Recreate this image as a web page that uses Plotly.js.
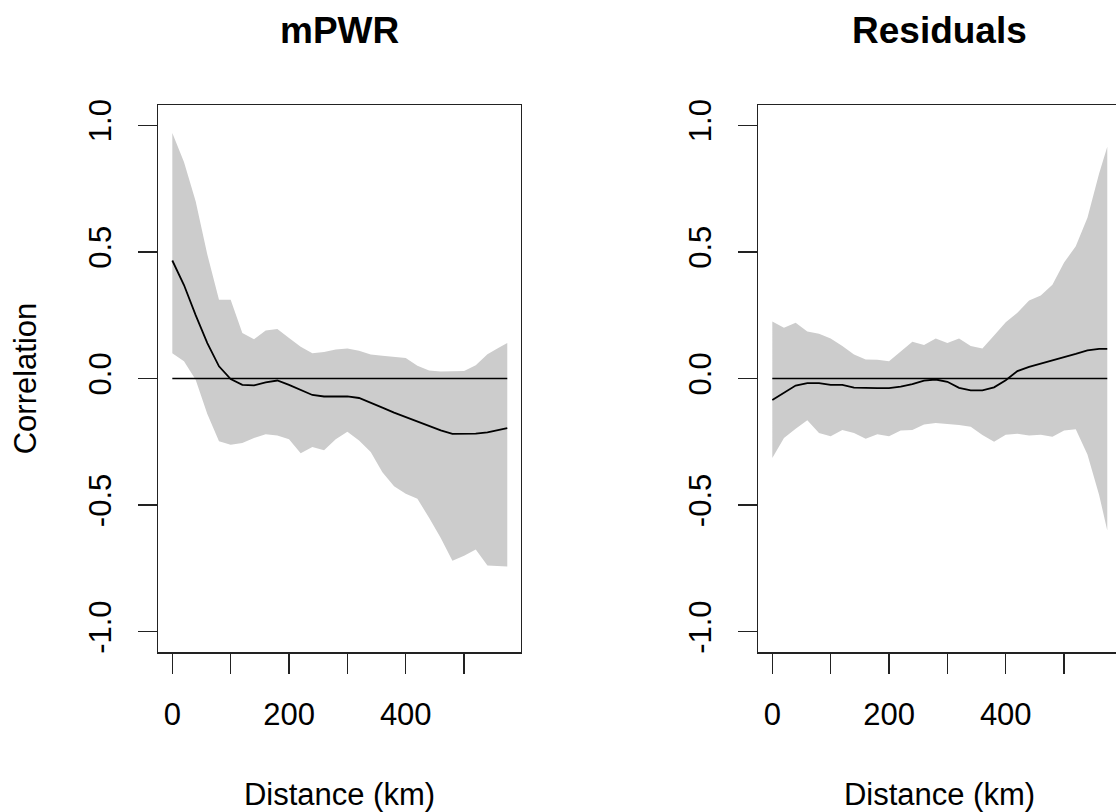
<!DOCTYPE html>
<html>
<head>
<meta charset="utf-8">
<script src="https://cdn.plot.ly/plotly-3.0.1.min.js"></script>
<style>
html, body { margin: 0; padding: 0; overflow: hidden; background: #fff; }
#chart { width: 1124px; height: 812px; }
</style>
</head>
<body>
<div id="chart"></div>
<script>
// ---- data ----
const distance = [0, 20, 40, 60, 80, 100, 120, 140, 160, 180, 200, 220, 240, 260, 280, 300,
                  320, 340, 360, 380, 400, 420, 440, 460, 480, 500, 520, 540, 560, 574];

const mpwrMean  = [0.466, 0.369, 0.25, 0.14, 0.048, -0.002, -0.025, -0.027, -0.015, -0.008, -0.025, -0.046, -0.065, -0.071, -0.071, -0.071,
                   -0.077, -0.095, -0.115, -0.135, -0.153, -0.170, -0.187, -0.205, -0.219, -0.219, -0.218, -0.213, -0.204, -0.196];
const mpwrUpper = [0.969, 0.855, 0.70, 0.49, 0.311, 0.311, 0.18, 0.155, 0.19, 0.195, 0.16, 0.125, 0.10, 0.105, 0.115, 0.118,
                   0.11, 0.095, 0.09, 0.086, 0.081, 0.05, 0.032, 0.028, 0.028, 0.030, 0.052, 0.096, 0.122, 0.140];
const mpwrLower = [0.100, 0.068, -0.005, -0.14, -0.248, -0.262, -0.255, -0.235, -0.22, -0.225, -0.24, -0.295, -0.27, -0.283, -0.24, -0.21,
                   -0.245, -0.29, -0.37, -0.425, -0.455, -0.475, -0.55, -0.63, -0.72, -0.70, -0.675, -0.738, -0.741, -0.742];

const residMean  = [-0.085, -0.055, -0.028, -0.018, -0.018, -0.025, -0.025, -0.036, -0.038, -0.038, -0.038, -0.032, -0.022, -0.008, -0.004, -0.013,
                    -0.037, -0.047, -0.047, -0.035, -0.007, 0.029, 0.046, 0.058, 0.070, 0.084, 0.097, 0.111, 0.117, 0.117];
const residUpper = [0.225, 0.20, 0.22, 0.186, 0.177, 0.158, 0.128, 0.095, 0.075, 0.074, 0.068, 0.105, 0.145, 0.132, 0.158, 0.14,
                    0.158, 0.128, 0.118, 0.17, 0.222, 0.26, 0.308, 0.328, 0.37, 0.458, 0.522, 0.635, 0.81, 0.915];
const residLower = [-0.314, -0.235, -0.198, -0.165, -0.215, -0.228, -0.203, -0.215, -0.238, -0.22, -0.228, -0.205, -0.203, -0.182, -0.176, -0.179,
                    -0.184, -0.191, -0.223, -0.25, -0.222, -0.218, -0.225, -0.222, -0.23, -0.205, -0.2, -0.3, -0.46, -0.60];

const panelTitles = ["mPWR", "Residuals"];
const xTickVals = [0, 100, 200, 300, 400, 500];
const xTickText = ["0", "", "200", "", "400", ""];
const yTickVals = [-1.0, -0.5, 0.0, 0.5, 1.0];
const yTickText = ["-1.0", "-0.5", "0.0", "0.5", "1.0"];
const xLabel = "Distance (km)";
const yLabel = "Correlation";

// ---- styling ----
const FONT = "Liberation Sans, Arial, sans-serif";
const W = 1124, H = 812;
const BAND = "#cccccc";
const AX = "#222222";

function bandTrace(x, up, lo, xa, ya) {
  return {
    x: x.concat(x.slice().reverse()),
    y: up.concat(lo.slice().reverse()),
    xaxis: xa, yaxis: ya,
    type: "scatter", mode: "lines", fill: "toself",
    fillcolor: BAND, line: { width: 0, color: BAND },
    hoverinfo: "skip"
  };
}
function zeroTrace(x, xa, ya) {
  return {
    x: [x[0], x[x.length - 1]], y: [0, 0],
    xaxis: xa, yaxis: ya, type: "scatter", mode: "lines",
    line: { color: "#000", width: 1.6 }, hoverinfo: "skip"
  };
}
function meanTrace(x, y, xa, ya) {
  return {
    x: x, y: y, xaxis: xa, yaxis: ya, type: "scatter", mode: "lines",
    line: { color: "#000", width: 1.8 }
  };
}

const traces = [
  bandTrace(distance, mpwrUpper, mpwrLower, "x", "y"),
  zeroTrace(distance, "x", "y"),
  meanTrace(distance, mpwrMean, "x", "y"),
  bandTrace(distance, residUpper, residLower, "x2", "y2"),
  zeroTrace(distance, "x2", "y2"),
  meanTrace(distance, residMean, "x2", "y2")
];

const yDom = [(H - 652) / H, (H - 105) / H];
const xRange = [-24, 597];
const yRange = [-1.08, 1.08];

function xAxis(domain, anchor) {
  return {
    domain: domain, anchor: anchor, range: xRange,
    showgrid: false, zeroline: false,
    showline: true, mirror: true, linecolor: AX, linewidth: 1.5,
    ticks: "outside", ticklen: 20, tickwidth: 1.5, tickcolor: AX,
    tickmode: "array", tickvals: xTickVals, ticktext: xTickText,
    tickfont: { family: FONT, size: 31, color: "#000" },
    ticklabelstandoff: 14,
    title: { text: xLabel, font: { family: FONT, size: 31, color: "#000" }, standoff: 58 },
    automargin: false, fixedrange: true
  };
}
function yAxis(anchor, withTitle) {
  return {
    domain: yDom, anchor: anchor, range: yRange,
    showgrid: false, zeroline: false,
    showline: true, mirror: true, linecolor: AX, linewidth: 1.5,
    ticks: "outside", ticklen: 19, tickwidth: 1.5, tickcolor: AX,
    tickmode: "array", tickvals: yTickVals, ticktext: yTickText,
    tickangle: -90,
    tickfont: { family: FONT, size: 31, color: "#000" },
    ticklabelstandoff: 14,
    title: withTitle ? { text: yLabel, font: { family: FONT, size: 31, color: "#000" }, standoff: 37 } : { text: "" },
    automargin: false, fixedrange: true
  };
}

const layout = {
  width: W, height: H,
  margin: { l: 0, r: 0, t: 0, b: 0 },
  paper_bgcolor: "#fff", plot_bgcolor: "#fff",
  showlegend: false,
  xaxis: xAxis([158.3 / W, 520.7 / W], "y"),
  yaxis: yAxis("x", true),
  xaxis2: xAxis([758.3 / W, 1120.7 / W], "y2"),
  yaxis2: yAxis("x2", false),
  annotations: panelTitles.map((t, i) => ({
    text: "<b>" + t + "</b>",
    xref: (i === 0 ? "x" : "x2") + " domain", x: 0.5,
    yref: "paper", y: 1 - 30 / H,
    xanchor: "center", yanchor: "middle", showarrow: false,
    font: { family: FONT, size: 37, color: "#000" }
  }))
};

Plotly.newPlot("chart", traces, layout, { displayModeBar: false, staticPlot: true });
</script>
</body>
</html>
